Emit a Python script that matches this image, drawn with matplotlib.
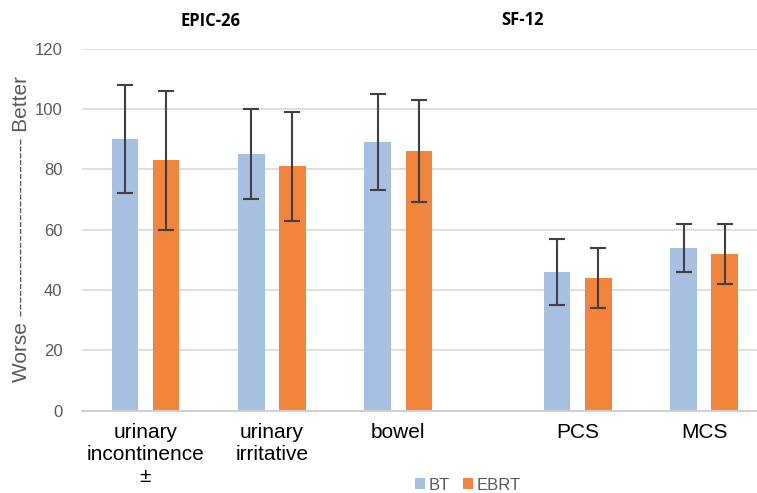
import matplotlib.pyplot as plt
import numpy as np

categories = ['urinary\nincontinence\n±', 'urinary\nirritative', 'bowel', 'PCS', 'MCS']
positions = [0, 1, 2, 3.42, 4.42]

bt = [90, 85, 89, 46, 54]
bt_low = [72, 70, 73, 35, 46]
bt_high = [108, 100, 105, 57, 62]

ebrt = [83, 81, 86, 44, 52]
ebrt_low = [60, 63, 69, 34, 42]
ebrt_high = [106, 99, 103, 54, 62]

yticks = [0, 20, 40, 60, 80, 100, 120]

plt.rcParams['font.family'] = ['Liberation Sans', 'DejaVu Sans']

fig = plt.figure(figsize=(7.57, 4.93), dpi=100)
ax = fig.add_axes([82/757, 0.1669, 675/757, 0.7347])

x = np.array(positions)
w = 0.211
off = 0.163
err_bt = [np.array(bt) - np.array(bt_low), np.array(bt_high) - np.array(bt)]
err_eb = [np.array(ebrt) - np.array(ebrt_low), np.array(ebrt_high) - np.array(ebrt)]

ekw = dict(ecolor='#404040', elinewidth=1.5, capsize=6, capthick=1.5)
ax.bar(x - off, bt, w, color='#A7BFE1', label='BT', yerr=err_bt, error_kw=ekw, zorder=3)
ax.bar(x + off, ebrt, w, color='#F2843B', label='EBRT', yerr=err_eb, error_kw=ekw, zorder=3)

ax.set_xlim(-0.502, 4.838)
ax.set_ylim(0, 120)
ax.set_yticks(yticks)
ax.set_xticks(x)
ax.set_xticklabels(categories, fontsize=15, color='black')
ax.tick_params(axis='x', length=0, pad=9)
ax.tick_params(axis='y', length=0, pad=14, labelsize=12, labelcolor='#595959')
ax.grid(axis='y', color='#D9D9D9', linewidth=1.2, zorder=0)
for s in ['top', 'right', 'left']:
    ax.spines[s].set_visible(False)
ax.spines['bottom'].set_color('#D0D0D0')
ax.spines['bottom'].set_linewidth(1.5)
ax.spines['bottom'].set_zorder(4)

fig.text(22/757, 1 - 229/493, 'Worse ' + '-' * 26 + ' Better', rotation=90,
         ha='center', va='center', fontsize=15, color='#595959')

fig.text(211/757, 1 - 21/493, 'EPIC-26', ha='center', va='center',
         fontsize=12, fontweight='bold', family='Open Sans')
fig.text(522/757, 1 - 20/493, 'SF-12', ha='center', va='center',
         fontsize=12, fontweight='bold', family='Open Sans')

leg = fig.legend(loc='center', bbox_to_anchor=(468/757, 1 - 485/493), ncol=2,
                 frameon=False, fontsize=12, handlelength=0.6, handleheight=0.6,
                 handletextpad=0.2, columnspacing=0.8)
for t in leg.get_texts():
    t.set_color('#595959')

fig.savefig('out.png', dpi=100)
